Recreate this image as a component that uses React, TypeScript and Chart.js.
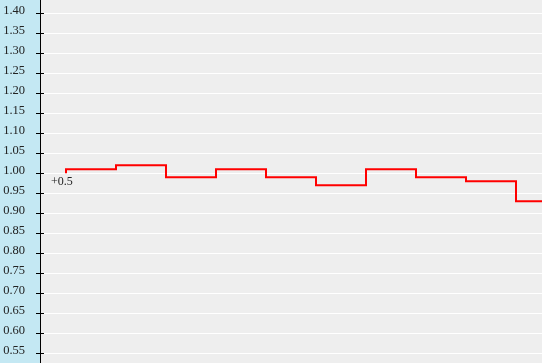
import React, { useEffect, useRef } from "react";
import { Chart, registerables } from "chart.js";

Chart.register(...registerables);

const xSteps = [0, 1, 2, 3, 4, 5, 6, 7, 8, 9, 10];
const values = [1.0, 1.01, 1.02, 0.99, 1.01, 0.99, 0.97, 1.01, 0.99, 0.98, 0.93];
const yTicks = [0.55, 0.6, 0.65, 0.7, 0.75, 0.8, 0.85, 0.9, 0.95, 1.0, 1.05, 1.1, 1.15, 1.2, 1.25, 1.3, 1.35, 1.4];
const startLabel = "+0.5";

const FONT = "'Liberation Serif', 'Times New Roman', serif";

const decor = {
  id: "decor",
  beforeDraw(chart: any) {
    const { ctx, chartArea } = chart;
    ctx.save();
    ctx.fillStyle = "#c4e8f3";
    ctx.fillRect(0, 0, chartArea.left, chart.height);
    ctx.fillStyle = "#eeeeee";
    ctx.fillRect(chartArea.left, chartArea.top, chartArea.right - chartArea.left, chartArea.bottom - chartArea.top);
    ctx.restore();
  },
  afterDraw(chart: any) {
    const { ctx, chartArea } = chart;
    const y = chart.scales.y;
    const x = chart.scales.x;
    ctx.save();
    ctx.strokeStyle = "#000";
    ctx.lineWidth = 1;
    ctx.beginPath();
    for (const t of yTicks) {
      const py = Math.round(y.getPixelForValue(t)) + 0.5;
      ctx.moveTo(chartArea.left - 4, py);
      ctx.lineTo(chartArea.left + 4, py);
    }
    ctx.stroke();
    ctx.fillStyle = "#222";
    ctx.font = "12.5px " + FONT;
    ctx.textAlign = "right";
    ctx.textBaseline = "alphabetic";
    for (const t of yTicks) {
      ctx.fillText(t.toFixed(2), chartArea.left - 15, y.getPixelForValue(t) + 0.5);
    }
    ctx.font = "12px " + FONT;
    ctx.textAlign = "left";
    ctx.fillText(startLabel, x.getPixelForValue(xSteps[0]) - 15, y.getPixelForValue(values[0]) + 12);
    ctx.restore();
  },
};

export default function App() {
  const ref = useRef<HTMLCanvasElement>(null);
  useEffect(() => {
    document.body.style.margin = "0";
    const chart = new Chart(ref.current!, {
      type: "line",
      data: {
        datasets: [
          {
            data: xSteps.map((v, i) => ({ x: v, y: values[i] })),
            borderColor: "#ff0000",
            borderWidth: 2,
            pointRadius: 0,
            stepped: "after",
            fill: false,
          },
        ],
      },
      options: {
        animation: false,
        responsive: false,
        layout: { padding: 0 },
        plugins: { legend: { display: false }, tooltip: { enabled: false } },
        scales: {
          x: {
            type: "linear",
            display: false,
            min: -0.52,
            max: 9.52,
          },
          y: {
            type: "linear",
            min: 0.52583,
            max: 1.43333,
            afterFit: (s: any) => {
              s.width = 40;
              s.paddingTop = 0;
              s.paddingBottom = 0;
            },
            afterBuildTicks: (s: any) => {
              s.ticks = yTicks.map((v) => ({ value: v }));
            },
            border: { display: true, color: "#000", width: 1 },
            grid: { color: "#ffffff", lineWidth: 1, drawTicks: false },
            ticks: { display: false },
          },
        },
      },
      plugins: [decor],
    });
    return () => chart.destroy();
  }, []);
  return <canvas ref={ref} width={542} height={363} style={{ display: "block" }} />;
}
